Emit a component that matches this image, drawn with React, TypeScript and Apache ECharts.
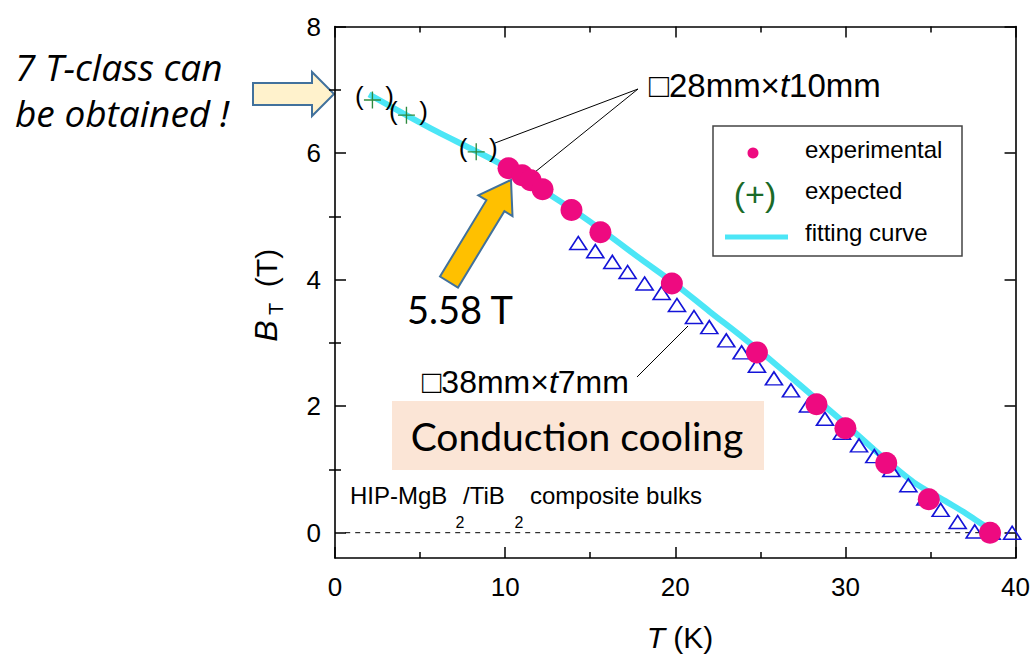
import React, { useEffect, useRef } from "react";
import * as echarts from "echarts";

// ---- data ----
const fitT = [2, 4, 6, 8, 10, 12, 14, 16, 18, 20, 22, 24, 26, 28, 30, 32, 34, 36, 37, 38, 38.6];
const fitB = [6.93, 6.63, 6.34, 6.07, 5.79, 5.45, 5.1, 4.72, 4.32, 3.93, 3.5, 3.08, 2.64, 2.18, 1.72, 1.24, 0.8, 0.48, 0.32, 0.14, 0.05];

const expT = [10.2, 11.0, 11.5, 12.2, 13.9, 15.6, 19.8, 24.8, 28.3, 30.0, 32.4, 34.9, 38.5];
const expB = [5.76, 5.65, 5.57, 5.43, 5.1, 4.75, 3.94, 2.85, 2.03, 1.65, 1.1, 0.53, 0.0];

const expectedT = [2.2, 4.2, 8.3];
const expectedB = [6.84, 6.6, 6.02];

const triT = [14.3, 15.3, 16.3, 17.2, 18.2, 19.2, 20.1, 21.1, 22.0, 23.0, 23.9, 24.8, 25.8, 26.8, 27.8, 28.8, 29.8, 30.8, 31.7, 32.7, 33.7, 34.7, 35.6, 36.6, 37.6, 38.6, 39.8];
const triB = [4.58, 4.45, 4.28, 4.12, 3.94, 3.79, 3.6, 3.41, 3.25, 3.04, 2.85, 2.64, 2.44, 2.25, 2.01, 1.8, 1.58, 1.38, 1.21, 0.99, 0.75, 0.54, 0.36, 0.17, 0.02, 0.0, 0.0];

const zeroLineT = [0.6, 38.5];

const xTicks = { min: 0, max: 40, interval: 10 };
const yMajor = [0, 2, 4, 6, 8];
const yMinor = [1, 3, 5, 7];

const PINK = "#EE0A80";
const CYAN = "#4CE6F6";
const BLUE = "#1414D8";
const GREEN = "#2E8A3E";
const FONT = "'Liberation Sans', Arial, sans-serif";
const CAL = "Lato, 'Open Sans', sans-serif";
const ITAL = "'Open Sans', Lato, sans-serif";

export default function App() {
  const ref = useRef<HTMLDivElement>(null);
  useEffect(() => {
    if (!ref.current) return;
    const chart = echarts.init(ref.current, undefined, { renderer: "svg" });
    const line = { show: true, onZero: false, lineStyle: { color: "#000", width: 1.6 } };
    const tickStyle = { color: "#000", width: 1.5 };
    const xBase = (pos: string, labels: boolean) => ({
      type: "value",
      position: pos,
      min: xTicks.min,
      max: xTicks.max,
      interval: xTicks.interval,
      axisLine: line,
      splitLine: { show: false },
      axisTick: { show: true, inside: true, length: 11, lineStyle: tickStyle },
      minorTick: { show: true, splitNumber: 2, length: 6, lineStyle: tickStyle },
      axisLabel: labels
        ? { show: true, fontSize: 26, color: "#000", fontFamily: FONT, margin: 16 }
        : { show: false },
    });
    const yBase = (pos: string, vals: number[], len: number, showLine: boolean, labels: boolean) => ({
      type: "value",
      position: pos,
      min: -0.4,
      max: 8,
      axisLine: showLine ? line : { show: false },
      splitLine: { show: false },
      axisTick: { show: true, inside: true, length: len, customValues: vals, lineStyle: tickStyle },
      axisLabel: labels
        ? { show: true, customValues: vals, fontSize: 26, color: "#000", fontFamily: FONT, margin: 14 }
        : { show: false },
    });

    const pairs = (a: number[], b: number[]) => a.map((v, i) => [v, b[i]]);

    const option: any = {
      animation: false,
      grid: { left: 335, right: 17, top: 26.6, bottom: 102, containLabel: false },
      xAxis: [xBase("bottom", true), xBase("top", false)],
      yAxis: [
        yBase("left", yMajor, 11, true, true),
        yBase("right", yMajor, 11, true, false),
        yBase("left", yMinor, 6, false, false),
        yBase("right", yMinor, 6, false, false),
      ],
      series: [
        {
          type: "line",
          data: zeroLineT.map((t) => [t, 0]),
          symbol: "none",
          silent: true,
          lineStyle: { color: "#000", width: 1, type: [5, 5] },
          z: 1,
        },
        {
          type: "line",
          data: pairs(fitT, fitB),
          smooth: 0.3,
          symbol: "none",
          silent: true,
          lineStyle: { color: CYAN, width: 6 },
          z: 2,
        },
        {
          type: "scatter",
          data: pairs(triT, triB),
          symbol: "triangle",
          symbolSize: [17, 13],
          itemStyle: { color: "rgba(255,255,255,0)", borderColor: BLUE, borderWidth: 1.6, opacity: 1 },
          z: 3,
        },
        {
          type: "scatter",
          data: pairs(expectedT, expectedB),
          symbol: "path://M0,4.6H10V5.4H0Z M4.6,0H5.4V10H4.6Z",
          symbolSize: 17,
          itemStyle: { color: GREEN, opacity: 1 },
          label: {
            show: true,
            position: "inside",
            formatter: "(   )",
            fontSize: 26,
            fontFamily: FONT,
            color: "#000",
            offset: [2, -4],
          },
          z: 4,
        },
        {
          type: "scatter",
          data: pairs(expT, expB),
          symbol: "circle",
          symbolSize: 22,
          itemStyle: { color: PINK, opacity: 1 },
          z: 5,
        },
      ],
      graphic: [
        // left annotation
        { type: "text", x: 15, y: 66, style: { text: "7 T-class can", font: `italic 37px ${ITAL}`, fill: "#000", align: "left", verticalAlign: "middle" } },
        { type: "text", x: 15, y: 112, style: { text: "be obtained !", font: `italic 37px ${ITAL}`, fill: "#000", align: "left", verticalAlign: "middle" } },
        {
          type: "polygon",
          shape: { points: [[253, 83], [312, 83], [312, 72], [334, 94], [312, 116], [312, 105], [253, 105]] },
          style: { fill: "#FFF2CC", stroke: "#41719C", lineWidth: 2 },
        },
        // orange arrow
        {
          type: "polygon",
          shape: { points: [[440, 276.5], [486.4, 200.2], [478.3, 195.3], [511, 180], [512.5, 216.1], [504.4, 211.2], [458, 287.5]] },
          style: { fill: "#FFC000", stroke: "#41719C", lineWidth: 2 },
          z: 10,
        },
        { type: "text", x: 460, y: 309, style: { text: "5.58 T", font: `38px ${CAL}`, fill: "#000", align: "center", verticalAlign: "middle" } },
        // size labels
        {
          type: "text", x: 649, y: 85,
          style: {
            text: "{n|□28mm×}{i|t}{n|10mm}", align: "left", verticalAlign: "middle",
            rich: { n: { fontSize: 33, fontFamily: FONT, fill: "#000" }, i: { fontSize: 33, fontFamily: FONT, fontStyle: "italic", fill: "#000" } },
          },
        },
        { type: "line", shape: { x1: 638, y1: 89, x2: 495, y2: 143 }, style: { stroke: "#000", lineWidth: 1 } },
        { type: "line", shape: { x1: 638, y1: 89, x2: 535, y2: 172 }, style: { stroke: "#000", lineWidth: 1 } },
        {
          type: "text", x: 422, y: 382,
          style: {
            text: "{n|□38mm×}{i|t}{n|7mm}", align: "left", verticalAlign: "middle",
            rich: { n: { fontSize: 32, fontFamily: FONT, fill: "#000" }, i: { fontSize: 32, fontFamily: FONT, fontStyle: "italic", fill: "#000" } },
          },
        },
        { type: "line", shape: { x1: 637, y1: 377, x2: 688, y2: 326 }, style: { stroke: "#000", lineWidth: 1 } },
        // conduction cooling
        { type: "rect", shape: { x: 392, y: 401, width: 372, height: 69 }, style: { fill: "#FBE5D6" } },
        { type: "text", x: 577, y: 436, style: { text: "Conduction cooling", font: `39px ${CAL}`, fill: "#000", align: "center", verticalAlign: "middle" } },
        // HIP text
        { type: "text", x: 350, y: 495, style: { text: "HIP-MgB", font: `24px ${FONT}`, fill: "#000", align: "left", verticalAlign: "middle" } },
        { type: "text", x: 460, y: 522, style: { text: "2", font: `16px ${FONT}`, fill: "#000", align: "center", verticalAlign: "middle" } },
        { type: "text", x: 463, y: 495, style: { text: "/TiB", font: `24px ${FONT}`, fill: "#000", align: "left", verticalAlign: "middle" } },
        { type: "text", x: 519, y: 522, style: { text: "2", font: `16px ${FONT}`, fill: "#000", align: "center", verticalAlign: "middle" } },
        { type: "text", x: 530, y: 495, style: { text: "composite bulks", font: `24px ${FONT}`, fill: "#000", align: "left", verticalAlign: "middle" } },
        // legend
        { type: "rect", shape: { x: 713, y: 126, width: 249, height: 130 }, style: { fill: "#fff", stroke: "#444", lineWidth: 1.5 } },
        { type: "circle", shape: { cx: 753, cy: 153, r: 5.5 }, style: { fill: PINK } },
        { type: "text", x: 805, y: 149, style: { text: "experimental", font: `24px ${FONT}`, fill: "#000", align: "left", verticalAlign: "middle" } },
        { type: "text", x: 755, y: 194, style: { text: "(+)", font: `34px ${FONT}`, fill: "#1A6A28", align: "center", verticalAlign: "middle" } },
        { type: "text", x: 805, y: 190, style: { text: "expected", font: `24px ${FONT}`, fill: "#000", align: "left", verticalAlign: "middle" } },
        { type: "line", shape: { x1: 725, y1: 237, x2: 788, y2: 237 }, style: { stroke: CYAN, lineWidth: 5 } },
        { type: "text", x: 805, y: 232, style: { text: "fitting curve", font: `24px ${FONT}`, fill: "#000", align: "left", verticalAlign: "middle" } },
        // axis titles
        { type: "text", x: 266, y: 331, rotation: Math.PI / 2, style: { text: "B", font: `italic 32px ${FONT}`, fill: "#000", align: "center", verticalAlign: "middle" } },
        { type: "text", x: 276, y: 309, rotation: Math.PI / 2, style: { text: "T", font: `20px ${FONT}`, fill: "#000", align: "center", verticalAlign: "middle" } },
        { type: "text", x: 266, y: 268, rotation: Math.PI / 2, style: { text: "(T)", font: `30px ${FONT}`, fill: "#000", align: "center", verticalAlign: "middle" } },
        {
          type: "text", x: 680, y: 637,
          style: {
            text: "{i|T}{n| (K)}", align: "center", verticalAlign: "middle",
            rich: { n: { fontSize: 30, fontFamily: FONT, fill: "#000" }, i: { fontSize: 30, fontFamily: FONT, fontStyle: "italic", fill: "#000" } },
          },
        },
      ],
    };
    chart.setOption(option);
    return () => chart.dispose();
  }, []);
  return (
    <div
      ref={ref}
      style={{ position: "fixed", left: 0, top: 0, width: 1033, height: 660, background: "#fff" }}
    />
  );
}
